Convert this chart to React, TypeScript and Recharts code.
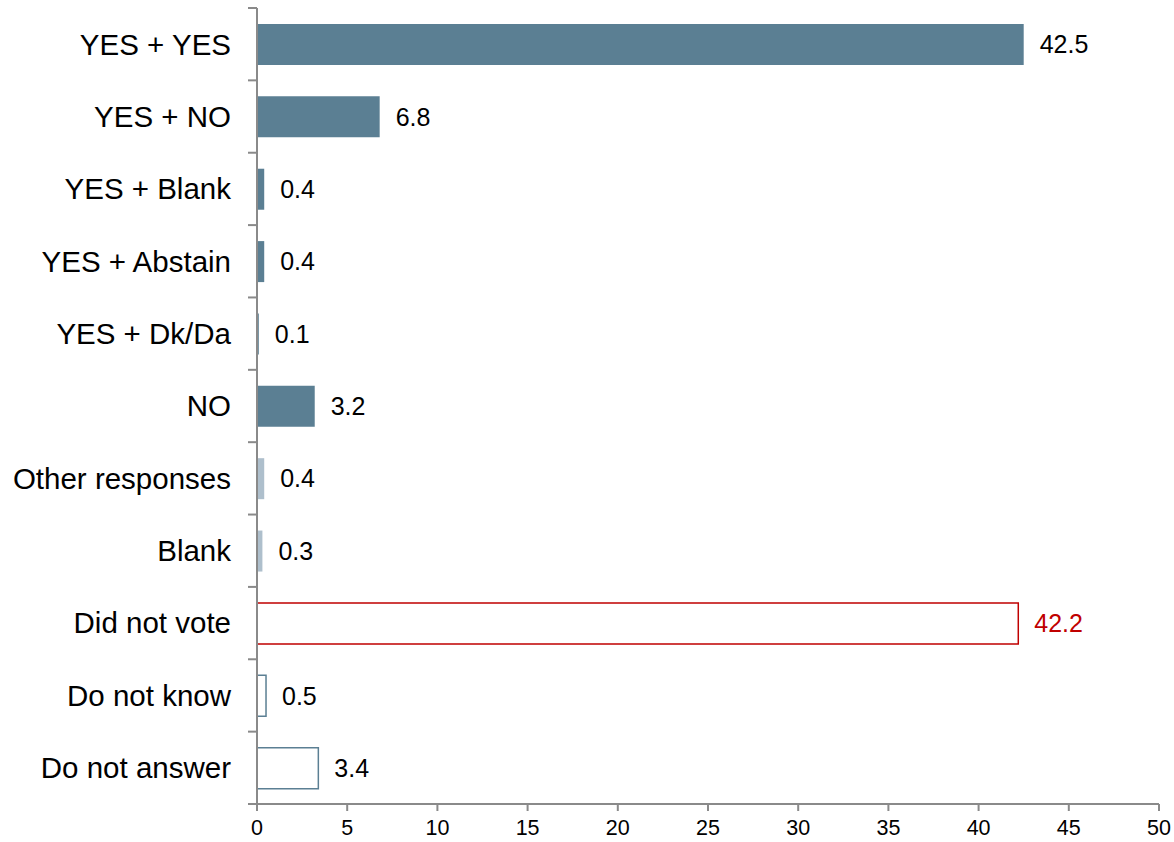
import { BarChart, Bar, XAxis, YAxis, Cell, LabelList } from 'recharts'

const categories = [
  'YES + YES',
  'YES + NO',
  'YES + Blank',
  'YES + Abstain',
  'YES + Dk/Da',
  'NO',
  'Other responses',
  'Blank',
  'Did not vote',
  'Do not know',
  'Do not answer',
]
const values = [42.5, 6.8, 0.4, 0.4, 0.1, 3.2, 0.4, 0.3, 42.2, 0.5, 3.4]
const xTicks = [0, 5, 10, 15, 20, 25, 30, 35, 40, 45, 50]

const data = categories.map((name, i) => ({ name, value: values[i] }))

const W = 1174
const H = 842
const TOP = 8
const X_AXIS_H = 38
const Y_AXIS_W = 257
const BAND = (H - TOP - X_AXIS_H) / categories.length
const AXIS = '#8a8a8a'
const DARK = '#5b7f93'
const LIGHT = '#aebfcc'
const RED = '#c00000'
const FONT = "'Liberation Sans', Arial, sans-serif"

const fillFor = (i: number) => {
  if (i <= 5) return DARK
  if (i <= 7) return LIGHT
  return '#ffffff'
}
const strokeFor = (i: number) => {
  if (i === 8) return RED
  if (i >= 9) return DARK
  return 'none'
}

function CategoryTick(props: any) {
  const { x, y, payload, index } = props
  const last = index === categories.length - 1
  return (
    <g>
      <text x={x - 26} y={y} dy="0.35em" textAnchor="end" fontSize={29.5} fontFamily={FONT} fill="#000">
        {payload.value}
      </text>
      <line x1={x - 9} x2={x} y1={y - BAND / 2} y2={y - BAND / 2} stroke={AXIS} strokeWidth={2} />
      {last && (
        <line x1={x - 9} x2={x} y1={y + BAND / 2} y2={y + BAND / 2} stroke={AXIS} strokeWidth={2} />
      )}
    </g>
  )
}

function ValueLabel(props: any) {
  const { x, y, width, height, value, index } = props
  return (
    <text
      x={x + width + 16}
      y={y + height / 2}
      dy="0.35em"
      fontSize={25}
      fontFamily={FONT}
      fill={index === 8 ? RED : '#000'}
    >
      {value}
    </text>
  )
}

export default function App() {
  return (
    <div style={{ position: 'absolute', left: 0, top: 0, width: W, height: H, background: '#fff' }}>
      <BarChart
        width={W}
        height={H}
        data={data}
        layout="vertical"
        margin={{ top: TOP, right: 15, left: 0, bottom: 0 }}
      >
        <XAxis
          type="number"
          domain={[0, 50]}
          ticks={xTicks}
          interval={0}
          height={X_AXIS_H}
          stroke={AXIS}
          strokeWidth={2}
          tickSize={7}
          tickMargin={9}
          tick={{ fontSize: 21.5, fill: '#000', fontFamily: FONT }}
        />
        <YAxis
          type="category"
          dataKey="name"
          width={Y_AXIS_W}
          stroke={AXIS}
          strokeWidth={2}
          tickLine={false}
          tickSize={0}
          tickMargin={0}
          interval={0}
          tick={<CategoryTick />}
        />
        <Bar dataKey="value" barSize={41} isAnimationActive={false}>
          {data.map((_, i) => (
            <Cell key={i} fill={fillFor(i)} stroke={strokeFor(i)} strokeWidth={1.5} />
          ))}
          <LabelList dataKey="value" content={<ValueLabel />} />
        </Bar>
      </BarChart>
    </div>
  )
}
